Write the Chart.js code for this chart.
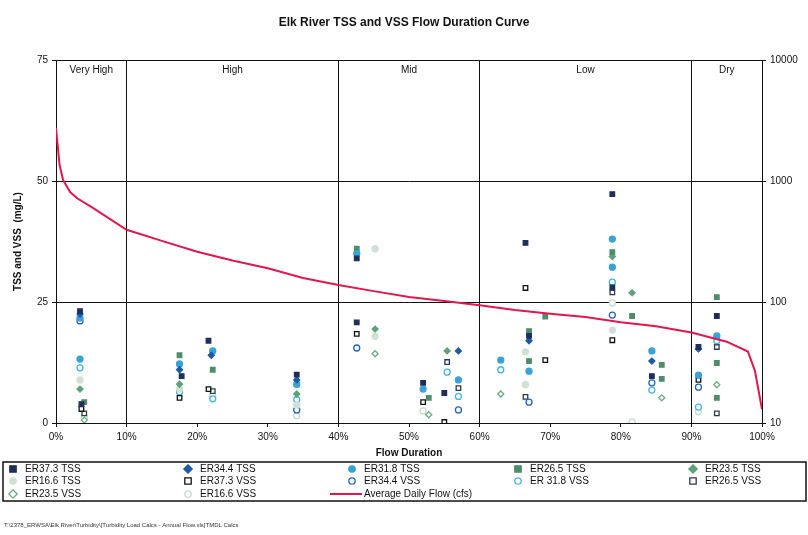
<!DOCTYPE html>
<html>
<head>
<meta charset="utf-8">
<script src="https://cdn.jsdelivr.net/npm/chart.js@4/dist/chart.umd.min.js"></script>
<style>
  body { margin: 0; background: #fff; }
  #wrap { width: 808px; height: 535px; }
</style>
</head>
<body>
<div id="wrap"><canvas id="fdcChart" width="808" height="535"></canvas></div>
<script>
// flow duration curve (x = % of time exceeded, y = cfs)
var flowPct = [0, 0.5, 1, 2, 3, 5, 10, 15, 20, 25, 30, 35, 40, 45, 50, 55, 60, 65, 70, 75, 80, 85, 90, 95, 98, 99, 100];
var flowCfs = [2750, 1360, 1020, 810, 720, 610, 395, 320, 260, 220, 190, 158, 138, 123, 110, 102, 94, 86, 80, 75, 68, 63, 56, 47, 39, 27, 13];

// sample points: [flow duration %, mg/L]
var er373TSS = [[3.4, 23.1], [3.6, 3.9], [17.8, 9.7], [21.6, 17], [34.1, 10], [42.6, 20.8], [42.6, 34], [52, 8.3], [55, 6.2], [66.5, 37.2], [67, 18], [78.8, 47.3], [78.8, 28], [84.4, 9.7], [91, 15.7], [93.6, 22.1]];
var er344TSS = [[3.4, 22.5], [17.5, 11], [22, 14], [34.1, 8.9], [57, 14.9], [67, 17], [84.4, 12.8], [91, 15.3]];
var er318TSS = [[3.4, 21.7], [3.4, 13.2], [17.5, 12.2], [22.2, 14.9], [34.1, 8], [42.6, 35], [52, 7], [57, 8.9], [63, 13], [67, 10.7], [78.8, 38], [78.8, 32.2], [84.4, 14.9], [91, 9.9], [93.6, 18]];
var er265TSS = [[4, 4.3], [17.5, 14], [22.2, 11], [34.1, 8], [42.6, 36], [52.8, 5.2], [67, 19], [67, 12.8], [69.3, 22], [78.8, 35.3], [81.6, 22.1], [85.8, 12], [85.8, 9.1], [93.6, 26], [93.6, 12.4], [93.6, 5.2]];
var er235TSS = [[3.4, 7], [17.5, 8], [34.1, 6], [45.2, 19.4], [55.4, 14.9], [78.8, 34.4], [81.6, 26.9]];
var er166TSS = [[3.4, 8.9], [17.5, 7], [34.1, 3.7], [45.2, 36], [45.2, 17.9], [66.5, 14.7], [66.5, 7.9], [78.8, 19.2]];
var er373VSS = [[3.6, 2.9], [17.5, 5.2], [21.6, 7], [42.6, 18.4], [52, 4.3], [55, 0.2], [66.5, 27.9], [69.3, 13], [78.8, 17.1], [91, 8.9]];
var er344VSS = [[3.4, 21.1], [34.1, 2.7], [42.6, 15.5], [57, 2.7], [67, 4.3], [78.8, 22.3], [84.4, 8.3], [91, 7.4]];
var er318VSS = [[3.4, 11.4], [17.5, 6.4], [22.2, 5], [34.1, 4.8], [55.4, 10.5], [57, 5.5], [63, 11], [78.8, 29.1], [84.4, 6.8], [91, 3.3], [93.6, 17]];
var er265VSS = [[4, 2], [22.2, 6.6], [55.4, 12.6], [57, 7.2], [66.5, 5.4], [78.8, 27], [93.6, 15.7], [93.6, 2]];
var er235VSS = [[4, 0.6], [45.2, 14.3], [52.8, 1.7], [63, 6], [85.8, 5.2], [93.6, 7.9]];
var er166VSS = [[4, 1.2], [22.2, 5.6], [34.1, 1.5], [52, 2.5], [78.8, 24.8], [81.6, 0.2], [91, 2.3]];

var zoneLabels = ['Very High', 'High', 'Mid', 'Low', 'Dry'];
var zoneCenters = [5, 25, 50, 75, 95];
var zoneBreaks = [10, 40, 60, 90];
var rightTicks = [10, 100, 1000, 10000];

var FONT = "'Liberation Sans Narrow', 'Liberation Sans', Arial, sans-serif";

function pts(arr) {
    return arr.map(function(p) { return {x: p[0], y: p[1]}; });
}

function sampleSet(label, data, style, fill, stroke) {
    return {
        type: 'scatter',
        label: label,
        data: pts(data),
        yAxisID: 'y',
        pointStyle: style,
        pointRadius: style === 'rect' ? 3.2 : 3,
        pointBackgroundColor: fill,
        pointBorderColor: stroke,
        pointBorderWidth: 1.3,
        order: 2
    };
}

var datasets = [
    sampleSet('ER37.3 TSS', er373TSS, 'rect', '#1e2f5c', '#1e2f5c'),
    sampleSet('ER34.4 TSS', er344TSS, 'rectRot', '#1b5ca3', '#1b5ca3'),
    sampleSet('ER31.8 TSS', er318TSS, 'circle', '#3aa2d8', '#3aa2d8'),
    sampleSet('ER26.5 TSS', er265TSS, 'rect', '#4f8c6b', '#4f8c6b'),
    sampleSet('ER23.5 TSS', er235TSS, 'rectRot', '#5fa27a', '#5fa27a'),
    sampleSet('ER16.6 TSS', er166TSS, 'circle', '#cfe0d6', '#cfe0d6'),
    sampleSet('ER37.3 VSS', er373VSS, 'rect', '#ffffff', '#111111'),
    sampleSet('ER34.4 VSS', er344VSS, 'circle', '#ffffff', '#2266b2'),
    sampleSet('ER 31.8 VSS', er318VSS, 'circle', '#ffffff', '#48b3e3'),
    sampleSet('ER26.5 VSS', er265VSS, 'rect', '#ffffff', '#2c3b4c'),
    sampleSet('ER23.5 VSS', er235VSS, 'rectRot', '#ffffff', '#6aab80'),
    sampleSet('ER16.6 VSS', er166VSS, 'circle', '#ffffff', '#c6dacd'),
    {
        type: 'line',
        label: 'Average Daily Flow (cfs)',
        data: flowPct.map(function(x, i) { return {x: x, y: flowCfs[i]}; }),
        yAxisID: 'y2',
        borderColor: '#e2174b',
        borderWidth: 2,
        pointRadius: 0,
        tension: 0,
        fill: false,
        order: 1
    }
];

function drawMarker(ctx, ds, x, y) {
    var r = 3.2;
    ctx.save();
    ctx.fillStyle = ds.pointBackgroundColor;
    ctx.strokeStyle = ds.pointBorderColor;
    ctx.lineWidth = 1.3;
    ctx.beginPath();
    if (ds.pointStyle === 'rect') {
        ctx.rect(x - r, y - r, 2 * r, 2 * r);
    } else if (ds.pointStyle === 'rectRot') {
        ctx.moveTo(x, y - r - 1); ctx.lineTo(x + r + 1, y); ctx.lineTo(x, y + r + 1); ctx.lineTo(x - r - 1, y); ctx.closePath();
    } else {
        ctx.arc(x, y, r, 0, Math.PI * 2);
    }
    ctx.fill();
    ctx.stroke();
    ctx.restore();
}

var extras = {
    id: 'extras',
    afterDraw: function(chart) {
        var ctx = chart.ctx;
        var xs = chart.scales.x;
        var area = chart.chartArea;
        ctx.save();
        // zone names
        ctx.font = '10px ' + FONT;
        ctx.fillStyle = '#111';
        ctx.textAlign = 'center';
        ctx.textBaseline = 'middle';
        zoneLabels.forEach(function(t, i) {
            ctx.fillText(t, xs.getPixelForValue(zoneCenters[i]), area.top + 10);
        });

        // legend box
        var bx = 3, by = 462, bw = 803, bh = 39;
        ctx.strokeStyle = '#111';
        ctx.lineWidth = 1.5;
        ctx.strokeRect(bx, by, bw, bh);
        var colX = [13, 188, 352, 518, 693];
        var rowY = [469, 481, 494];
        ctx.font = '10px ' + FONT;
        ctx.textAlign = 'left';
        chart.data.datasets.forEach(function(ds, i) {
            var col = i % 5, row = Math.floor(i / 5);
            var mx = colX[col], my = rowY[row];
            if (ds.type === 'line') {
                ctx.strokeStyle = ds.borderColor;
                ctx.lineWidth = 2;
                ctx.beginPath();
                ctx.moveTo(mx - 22, my);
                ctx.lineTo(mx + 10, my);
                ctx.stroke();
                ctx.fillStyle = '#111';
                ctx.fillText(ds.label, mx + 12, my);
            } else {
                drawMarker(ctx, ds, mx, my);
                ctx.fillStyle = '#111';
                ctx.fillText(ds.label, mx + 12, my);
            }
        });

        // file path footer
        ctx.font = '6px ' + FONT;
        ctx.fillStyle = '#333';
        ctx.fillText('T:\\2378_ERWSA\\Elk River\\Turbidity\\[Turbidity Load Calcs - Annual Flow.xls]TMDL Calcs', 4, 525);
        ctx.restore();
    }
};

var chart = new Chart(document.getElementById('fdcChart').getContext('2d'), {
    data: { datasets: datasets },
    options: {
        responsive: false,
        animation: false,
        layout: { padding: { left: 0, right: 0, top: 0, bottom: 67 } },
        plugins: {
            legend: { display: false },
            tooltip: { enabled: false },
            title: {
                display: true,
                text: 'Elk River TSS and VSS Flow Duration Curve',
                color: '#111',
                font: { family: FONT, size: 12, weight: 'bold' },
                padding: { top: 15, bottom: 30.6 }
            }
        },
        scales: {
            x: {
                type: 'linear',
                min: 0,
                max: 100,
                afterFit: function(s) { s.height = 45; },
                ticks: {
                    stepSize: 10,
                    color: '#111',
                    font: { family: FONT, size: 10 },
                    padding: 4,
                    maxRotation: 0,
                    callback: function(v) { return v + '%'; }
                },
                grid: {
                    color: function(c) { return c.tick && zoneBreaks.indexOf(c.tick.value) >= 0 ? '#111' : 'rgba(0,0,0,0)'; },
                    tickColor: '#111',
                    tickLength: 4,
                    lineWidth: 1
                },
                border: { display: true, color: '#111', width: 1 },
                title: {
                    display: true,
                    text: 'Flow Duration',
                    color: '#111',
                    font: { family: FONT, size: 10, weight: 'bold' },
                    padding: { top: 2, bottom: 9 }
                }
            },
            y: {
                position: 'left',
                min: 0,
                max: 75,
                afterFit: function(s) { s.width = 56; },
                ticks: {
                    stepSize: 25,
                    color: '#111',
                    font: { family: FONT, size: 10 },
                    padding: 4
                },
                grid: { color: '#111', tickColor: '#111', tickLength: 4, lineWidth: 1 },
                border: { display: true, color: '#111', width: 1 },
                title: {
                    display: true,
                    text: 'TSS and VSS  (mg/L)',
                    color: '#111',
                    font: { family: FONT, size: 10, weight: 'bold' },
                    padding: { top: 12, bottom: 0 }
                }
            },
            y2: {
                type: 'logarithmic',
                position: 'right',
                min: 10,
                max: 10000,
                afterFit: function(s) { s.width = 46; },
                afterBuildTicks: function(s) {
                    s.ticks = rightTicks.map(function(v) { return {value: v}; });
                },
                ticks: {
                    color: '#111',
                    font: { family: FONT, size: 10 },
                    padding: 4,
                    callback: function(v) { return String(v); }
                },
                grid: { drawOnChartArea: false, color: '#111', tickColor: '#111', tickLength: 4 },
                border: { display: true, color: '#111', width: 1 }
            }
        }
    },
    plugins: [extras]
});
</script>
</body>
</html>
